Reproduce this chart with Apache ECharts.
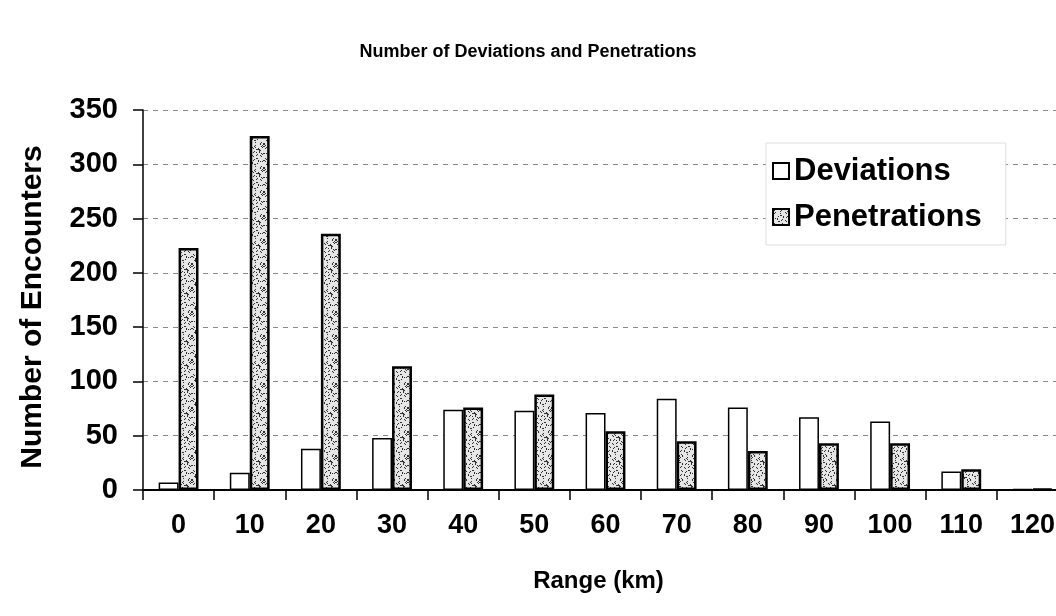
<!DOCTYPE html>
<html>
<head>
<meta charset="utf-8">
<script src="https://cdn.jsdelivr.net/npm/echarts@6/dist/echarts.min.js"></script>
<style>html,body{margin:0;padding:0;background:#fff}#c{width:1056px;height:616px}</style>
</head>
<body>
<div id="c"></div>
<script>
const categories = ['0','10','20','30','40','50','60','70','80','90','100','110','120'];
const deviations = [7, 16, 38, 48, 74, 73, 71, 84, 76, 67, 63, 17, 1];
const penetrations = [223, 326, 236, 114, 76, 88, 54, 45, 36, 43, 43, 19, 1];
const yTicks = [0, 50, 100, 150, 200, 250, 300, 350];

// stipple texture (style only)
function stipple() {
  const cv = document.createElement('canvas');
  cv.width = 24; cv.height = 24;
  const ctx = cv.getContext('2d');
  ctx.fillStyle = '#e6e6e6';
  ctx.fillRect(0, 0, 24, 24);
  ctx.fillStyle = '#303030';
  for (let i = 0; i < 24; i++) {
    for (let j = 0; j < 24; j++) {
      if (((i * 7 + j * 13 + i * j * 3) % 23) < 4) ctx.fillRect(i, j, 1, 1);
    }
  }
  return cv;
}
const pat = { image: stipple(), repeat: 'repeat' };

const FONT = '"Liberation Sans", Arial, sans-serif';
const chart = echarts.init(document.getElementById('c'), null, { renderer: 'canvas' });
chart.setOption({
  backgroundColor: '#fff',
  animation: false,
  title: {
    text: 'Number of Deviations and Penetrations',
    left: 'center', top: 38,
    textStyle: { fontFamily: FONT, fontWeight: 'bold', fontSize: 18, color: '#000' }
  },
  legend: {
    orient: 'vertical',
    left: 766, top: 143,
    padding: [12, 24, 12, 6],
    itemWidth: 16, itemHeight: 16, itemGap: 14,
    icon: 'rect',
    backgroundColor: '#fff',
    borderColor: '#ddd', borderWidth: 1,
    textStyle: { fontFamily: FONT, fontWeight: 'bold', fontSize: 31, color: '#000', lineHeight: 32 },
    data: ['Deviations', 'Penetrations']
  },
  grid: { left: 143, right: -12, top: 110, bottom: 126, containLabel: false, outerBoundsMode: 'none' },
  xAxis: {
    type: 'category',
    data: categories,
    name: 'Range (km)',
    nameLocation: 'middle', nameGap: 79,
    nameTextStyle: { fontFamily: FONT, fontWeight: 'bold', fontSize: 24, color: '#000', padding: [0, 14, 0, 0] },
    axisLine: { lineStyle: { color: '#000', width: 2 } },
    axisTick: { show: true, interval: 0, length: 10, lineStyle: { color: '#000', width: 1.5 } },
    axisLabel: { interval: 0, margin: 22, fontFamily: FONT, fontWeight: 'bold', fontSize: 27, color: '#000' }
  },
  yAxis: {
    type: 'value',
    min: 0, max: 350, interval: 50,
    name: 'Number of Encounters',
    nameLocation: 'middle', nameGap: 95, nameRotate: 90,
    nameTextStyle: { fontFamily: FONT, fontWeight: 'bold', fontSize: 30, color: '#000', padding: [0, 14, 0, 0] },
    axisLine: { show: true, lineStyle: { color: '#000', width: 1.5 } },
    axisTick: { show: true, length: 10, lineStyle: { color: '#000', width: 1.5 } },
    axisLabel: {
      margin: 25, fontFamily: FONT, fontWeight: 'bold', fontSize: 29, color: '#000',
      formatter: v => yTicks.includes(v) ? String(v) : ''
    },
    splitLine: { show: true, lineStyle: { color: '#888', width: 1, type: [5, 5] } }
  },
  series: [
    {
      name: 'Deviations', type: 'bar', data: deviations,
      barGap: '0%', barCategoryGap: '44%',
      itemStyle: { color: '#fff', borderColor: '#000', borderWidth: 1.5 }
    },
    {
      name: 'Penetrations', type: 'bar', data: penetrations,
      barGap: '0%', barCategoryGap: '44%',
      itemStyle: { color: pat, borderColor: '#000', borderWidth: 2.5 }
    }
  ]
});
</script>
</body>
</html>
